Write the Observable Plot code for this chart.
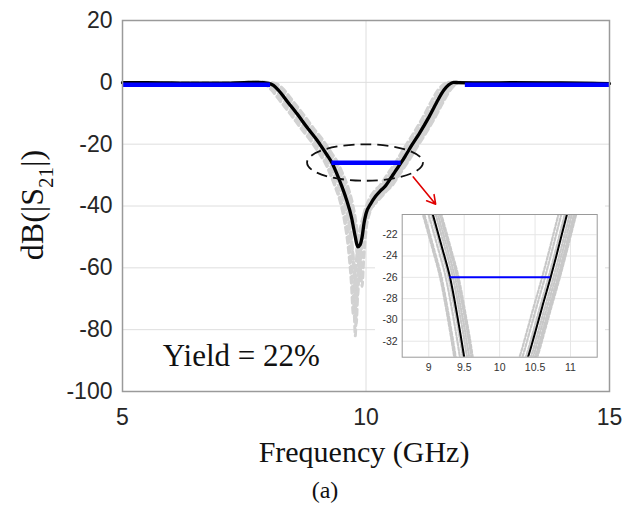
<!DOCTYPE html>
<html><head><meta charset="utf-8">
<script src="https://cdn.jsdelivr.net/npm/d3@7"></script>
<script src="https://cdn.jsdelivr.net/npm/@observablehq/plot@0.6"></script>
<style>
body{margin:0;background:#fff;}
#wrap{position:relative;width:627px;height:507px;overflow:hidden;background:#fff;}
#inset{position:absolute;left:375px;top:205px;}
</style></head><body><div id="wrap"><div id="main"></div><div id="inset"></div></div>
<script>
// ---- axis ticks ----
const xTicks = [5, 10, 15];
const yTicks = [20, 0, -20, -40, -60, -80, -100];
const insetXTicks = [9, 9.5, 10, 10.5, 11];
const insetYTicks = [-22, -24, -26, -28, -30, -32];

// ---- nominal response (black) ----
const nominalFreq = [5.0,5.5,6.0,6.5,7.0,7.5,7.8,8.0,8.1,8.2,8.4,8.6,8.8,9.0,9.1,9.2,9.3,9.4,9.5,9.6,9.7,9.78,9.83,9.88,9.92,9.96,10.0,10.1,10.2,10.3,10.4,10.5,10.6,10.72,10.8,10.95,11.1,11.3,11.45,11.6,11.7,11.8,11.9,12.5,13.0,14.0,15.0];
const nominalDb   = [-0.1,-0.1,-0.2,-0.3,-0.3,-0.1,0.0,-0.3,-1.0,-2.5,-6.5,-10.5,-14.8,-18.8,-21.1,-23.5,-26.0,-29.5,-33.5,-38.0,-43.5,-50.0,-53.2,-52.5,-50.0,-45.5,-42.5,-39.2,-36.8,-35.0,-33.5,-31.2,-28.8,-26.0,-24.0,-20.1,-16.4,-11.0,-6.5,-2.5,-0.8,0.0,-0.1,-0.2,-0.1,-0.2,-0.4];

// ---- Monte Carlo samples (gray dashed) [GHz, dB] ----
const mc1 = [[5,-0.1],[6,-0.2],[7,-0.3],[7.7,0],[7.88,-0.3],[7.98,-1.0],[8.08,-2.5],[8.28,-6.5],[8.48,-10.5],[8.68,-14.8],[8.88,-18.8],[8.98,-21.1],[9.08,-23.5],[9.18,-26],[9.28,-29.5],[9.38,-33.5],[9.48,-38],[9.58,-44],[9.66,-52],[9.72,-64],[9.76,-75],[9.78,-82],[9.8,-74],[9.84,-60],[9.9,-50],[9.98,-44],[10.1,-40.5],[10.2,-38.5],[10.3,-36.8],[10.4,-35],[10.5,-33.5],[10.6,-31.2],[10.7,-28.8],[10.82,-26],[10.9,-24],[11.05,-20.1],[11.2,-16.4],[11.4,-11],[11.55,-6.5],[11.7,-2.5],[11.8,-0.8],[11.9,0],[12,-0.1],[13,-0.1],[14,-0.2],[15,-0.4]];
const mc2 = [[5,-0.1],[6,-0.2],[7,-0.3],[7.74,0],[7.94,-0.3],[8.04,-1.0],[8.14,-2.5],[8.34,-6.5],[8.54,-10.5],[8.74,-14.8],[8.94,-18.8],[9.04,-21.1],[9.14,-23.5],[9.24,-26],[9.34,-29.5],[9.44,-33.5],[9.54,-38],[9.64,-45],[9.72,-54],[9.78,-63],[9.82,-70],[9.85,-63],[9.9,-53],[9.98,-45],[10.1,-41],[10.23,-38.5],[10.33,-36.8],[10.43,-35],[10.53,-33.5],[10.63,-31.2],[10.73,-28.8],[10.85,-26],[10.93,-24],[11.08,-20.1],[11.23,-16.4],[11.43,-11],[11.58,-6.5],[11.73,-2.5],[11.83,-0.8],[11.93,0],[12.03,-0.1],[13,-0.1],[14,-0.2],[15,-0.4]];
const mc3 = [[5,-0.1],[6,-0.2],[7,-0.3],[7.9,0],[8.1,-0.3],[8.2,-1.0],[8.3,-2.5],[8.5,-6.5],[8.7,-10.5],[8.9,-14.8],[9.1,-18.8],[9.2,-21.1],[9.3,-23.5],[9.4,-26],[9.5,-29.5],[9.6,-33.5],[9.7,-39],[9.78,-46],[9.84,-55],[9.88,-63],[9.91,-56],[9.96,-46],[10.04,-40],[10.12,-37.5],[10.22,-35],[10.32,-33.5],[10.42,-31.2],[10.52,-28.8],[10.64,-26],[10.72,-24],[10.87,-20.1],[11.02,-16.4],[11.22,-11],[11.37,-6.5],[11.52,-2.5],[11.62,-0.8],[11.72,0],[11.82,-0.1],[13,-0.1],[14,-0.2],[15,-0.4]];
const mc4 = [[5,-0.1],[6,-0.2],[7,-0.3],[7.84,0],[8.04,-0.3],[8.14,-1.0],[8.24,-2.5],[8.44,-6.5],[8.64,-10.5],[8.84,-14.8],[9.04,-18.8],[9.14,-21.1],[9.24,-23.5],[9.34,-26],[9.44,-29.5],[9.54,-33.5],[9.64,-38.5],[9.73,-45],[9.8,-52],[9.84,-58],[9.88,-52],[9.94,-44],[10.02,-39.5],[10.1,-36.8],[10.18,-35],[10.28,-33.5],[10.38,-31.2],[10.48,-28.8],[10.6,-26],[10.68,-24],[10.83,-20.1],[10.98,-16.4],[11.18,-11],[11.33,-6.5],[11.48,-2.5],[11.58,-0.8],[11.68,0],[11.78,-0.1],[13,-0.1],[14,-0.2],[15,-0.4]];
const mc5 = [[5,-0.1],[6,-0.2],[7,-0.3],[7.66,0],[7.86,-0.3],[7.96,-1.0],[8.06,-2.5],[8.26,-6.5],[8.46,-10.5],[8.66,-14.8],[8.86,-18.8],[8.96,-21.1],[9.06,-23.5],[9.16,-26],[9.26,-29.5],[9.36,-33.5],[9.46,-38],[9.56,-45],[9.64,-54],[9.7,-65],[9.74,-75],[9.77,-66],[9.82,-54],[9.9,-46],[10.0,-41.5],[10.14,-38.5],[10.24,-36.8],[10.34,-35],[10.44,-33.5],[10.54,-31.2],[10.64,-28.8],[10.76,-26],[10.84,-24],[10.99,-20.1],[11.14,-16.4],[11.34,-11],[11.49,-6.5],[11.64,-2.5],[11.74,-0.8],[11.84,0],[11.94,-0.1],[13,-0.1],[14,-0.2],[15,-0.4]];
const mc6 = [[5,-0.1],[6,-0.2],[7,-0.3],[7.92,0],[8.12,-0.3],[8.22,-1.0],[8.32,-2.5],[8.52,-6.5],[8.72,-10.5],[8.92,-14.8],[9.12,-18.8],[9.22,-21.1],[9.32,-23.5],[9.42,-26],[9.52,-29.5],[9.62,-33.5],[9.72,-39],[9.8,-46],[9.87,-56],[9.92,-66],[9.95,-58],[10.0,-48],[10.08,-42],[10.18,-39],[10.27,-36.8],[10.37,-35],[10.47,-33.5],[10.57,-31.2],[10.67,-28.8],[10.79,-26],[10.87,-24],[11.02,-20.1],[11.17,-16.4],[11.37,-11],[11.52,-6.5],[11.67,-2.5],[11.77,-0.8],[11.87,0],[11.97,-0.1],[13,-0.1],[14,-0.2],[15,-0.4]];
const mc7 = [[5,-0.1],[6,-0.2],[7,-0.3],[7.78,0],[7.98,-0.3],[8.08,-1.0],[8.18,-2.5],[8.38,-6.5],[8.58,-10.5],[8.78,-14.8],[8.98,-18.8],[9.08,-21.1],[9.18,-23.5],[9.28,-26],[9.38,-29.5],[9.48,-33.5],[9.58,-38.5],[9.67,-46],[9.74,-58],[9.78,-70],[9.8,-78],[9.83,-68],[9.88,-55],[9.95,-46],[10.05,-40.5],[10.17,-36.8],[10.27,-35],[10.37,-33.5],[10.47,-31.2],[10.57,-28.8],[10.69,-26],[10.77,-24],[10.92,-20.1],[11.07,-16.4],[11.27,-11],[11.42,-6.5],[11.57,-2.5],[11.67,-0.8],[11.77,0],[11.87,-0.1],[13,-0.1],[14,-0.2],[15,-0.4]];
const mc8 = [[5,-0.1],[6,-0.2],[7,-0.3],[7.87,0],[8.07,-0.3],[8.17,-1.0],[8.27,-2.5],[8.47,-6.5],[8.67,-10.5],[8.87,-14.8],[9.07,-18.8],[9.17,-21.1],[9.27,-23.5],[9.37,-26],[9.47,-29.5],[9.57,-33.5],[9.67,-38.5],[9.76,-45],[9.82,-52],[9.86,-60],[9.9,-53],[9.96,-45],[10.06,-41],[10.2,-38.5],[10.31,-36.8],[10.41,-35],[10.51,-33.5],[10.61,-31.2],[10.71,-28.8],[10.83,-26],[10.91,-24],[11.06,-20.1],[11.21,-16.4],[11.41,-11],[11.56,-6.5],[11.71,-2.5],[11.81,-0.8],[11.91,0],[12.01,-0.1],[13,-0.1],[14,-0.2],[15,-0.4]];

// ---- specification mask (blue) ----
const specStart = [5.0, 12.04, 9.3];
const specEnd   = [8.04, 15.0, 10.72];
const specLevel = [-0.8, -0.8, -26];

const yieldText = "Yield = 22%";

// ---- build tables ----
const nominal = nominalFreq.map((f, i) => ({f, d: nominalDb[i]}));
const mcRuns = [mc1, mc2, mc3, mc4, mc5, mc6, mc7, mc8]
  .flatMap((c, k) => c.map(([f, d]) => ({f, d, run: k})));
const spec = specStart.map((s, i) => ({x1: s, x2: specEnd[i], y: specLevel[i]}));

const fmt = d => String(d);
const serif = "'Liberation Serif', 'Times New Roman', serif";
const sans = "'Liberation Sans', Arial, Helvetica, sans-serif";

const main = Plot.plot({
  width: 627, height: 507,
  marginLeft: 122, marginRight: 18, marginTop: 20, marginBottom: 116,
  x: {domain: [5, 15]},
  y: {domain: [-100, 20]},
  style: {fontFamily: sans, fontSize: "23px", color: "#262626", background: "transparent"},
  marks: [
    Plot.gridX([10], {stroke: "#dedede", strokeOpacity: 1, strokeWidth: 1}),
    Plot.gridY(yTicks, {stroke: "#dedede", strokeOpacity: 1, strokeWidth: 1}),
    Plot.line(mcRuns, {x: "f", y: "d", z: "run", stroke: "#d2d2d2", strokeWidth: 3, strokeDasharray: "6,4", curve: "monotone-x"}),
    Plot.line(nominal, {x: "f", y: "d", stroke: "#000", strokeWidth: 3.3, curve: "monotone-x"}),
    Plot.ruleY(spec, {x1: "x1", x2: "x2", y: "y", stroke: "#0000ff", strokeWidth: 4.5}),
    Plot.frame({stroke: "#9a9a9a", strokeWidth: 1.5}),
    Plot.axisX(xTicks, {tickSize: 0, tickPadding: 17, tickFormat: fmt, label: null, fill: "#262626"}),
    Plot.axisY(yTicks, {tickSize: 0, tickPadding: 10, tickFormat: fmt, label: null, fill: "#262626"}),
    Plot.text([{x: 7.44, y: -88.6, t: yieldText}], {x: "x", y: "y", text: "t", fontFamily: serif, fontSize: 31, fill: "#111", textAnchor: "middle"}),
    Plot.arrow([{x1: 10.97, y1: -30.6, x2: 11.43, y2: -39.4}], {x1: "x1", y1: "y1", x2: "x2", y2: "y2", stroke: "#e00000", strokeWidth: 1.6, headLength: 9})
  ]
});

// annotations positioned through the plot's own scales
const sx = main.scale("x"), sy = main.scale("y");
const svg = d3.select(main);
const cx = sx.apply(9.99), cy = sy.apply(-26.1);
svg.append("ellipse")
  .attr("cx", cx).attr("cy", cy)
  .attr("rx", sx.apply(11.18) - cx).attr("ry", sy.apply(-32) - cy)
  .attr("fill", "none").attr("stroke", "#111").attr("stroke-width", 1.8)
  .attr("stroke-dasharray", "11,6");

// y label with subscript
const yl = svg.append("text")
  .attr("transform", "translate(43,205) rotate(-90)")
  .attr("text-anchor", "middle")
  .attr("font-family", serif).attr("font-size", 32).attr("fill", "#111");
yl.append("tspan").text("dB(|S");
yl.append("tspan").attr("font-size", 21).attr("dy", 10).text("21");
yl.append("tspan").attr("dy", -10).text("|)");

svg.append("text").attr("x", 364).attr("y", 462)
  .attr("text-anchor", "middle").attr("font-family", serif).attr("font-size", 30).attr("fill", "#111")
  .text("Frequency (GHz)");
svg.append("text").attr("x", 325).attr("y", 498)
  .attr("text-anchor", "middle").attr("font-family", serif).attr("font-size", 24).attr("fill", "#111")
  .text("(a)");

document.getElementById("main").appendChild(main);

// ---- inset (zoom of the stopband) ----
const inset = Plot.plot({
  width: 230, height: 175,
  marginLeft: 26.7, marginRight: 8.3, marginTop: 9, marginBottom: 23.3,
  x: {domain: [8.625, 11.377]},
  y: {domain: [-33.5, -20.1]},
  style: {fontFamily: sans, fontSize: "10.5px", color: "#333", background: "#fff"},
  marks: [
    Plot.gridX(insetXTicks, {stroke: "#e6e6e6", strokeOpacity: 1}),
    Plot.gridY(insetYTicks, {stroke: "#e6e6e6", strokeOpacity: 1}),
    Plot.line(mcRuns, {x: "f", y: "d", z: "run", stroke: "#c8c8c8", strokeWidth: 2.2, strokeDasharray: "3,2", curve: "monotone-x", clip: true}),
    Plot.line(nominal, {x: "f", y: "d", stroke: "#000", strokeWidth: 2, curve: "monotone-x", clip: true}),
    Plot.ruleY(spec, {x1: "x1", x2: "x2", y: "y", stroke: "#0000ff", strokeWidth: 2, clip: true}),
    Plot.frame({stroke: "#9a9a9a", strokeWidth: 1}),
    Plot.axisX(insetXTicks, {tickSize: 0, tickPadding: 6, tickFormat: fmt, label: null, fill: "#333"}),
    Plot.axisY(insetYTicks, {tickSize: 0, tickPadding: 4.5, tickFormat: fmt, label: null, fill: "#333"})
  ]
});
document.getElementById("inset").appendChild(inset);
</script>
</body></html>
